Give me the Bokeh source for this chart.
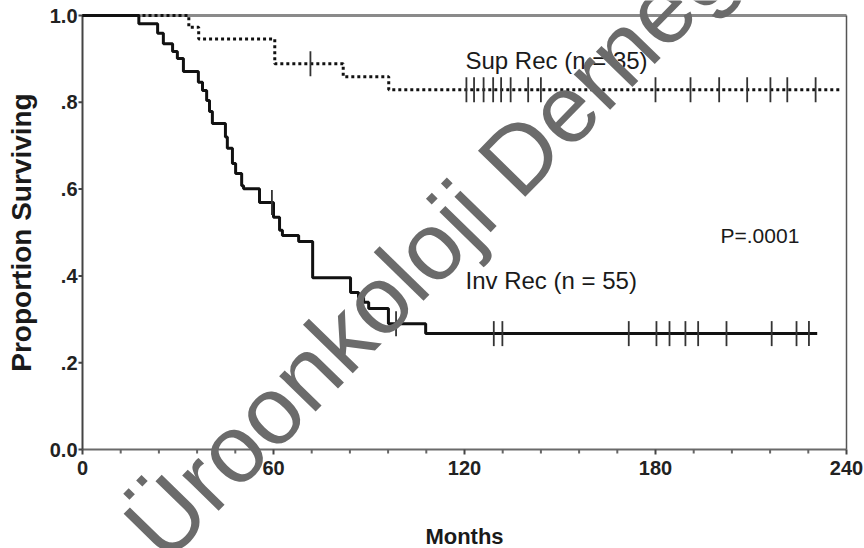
import math
from bokeh.plotting import figure
from bokeh.models import Label, Range1d
from bokeh.core.properties import value
from bokeh.embed import file_html
from bokeh.resources import INLINE

# ---------------- data ----------------
# Superficial recurrence (dotted curve)
sup_times = [33.4, 36.5, 60.4, 81.9, 96.2]
sup_surv = [0.973, 0.946, 0.889, 0.859, 0.829]
sup_end = 238.5
sup_censor = [71.6, 120.6, 123.0, 126.0, 129.0, 131.5, 134.5, 140.0, 144.0,
              180.0, 191.0, 200.0, 208.8, 216.1, 221.4, 230.3]

# Invasive recurrence (solid curve)
inv_times = [17.7, 23.6, 25.4, 28.3, 29.8, 31.7, 36.4, 37.7, 39.0, 39.9, 40.8,
             44.9, 45.5, 47.1, 48.1, 50.0, 50.6, 55.6, 60.0, 61.9, 62.8, 67.9,
             72.3, 84.2, 86.7, 88.3, 89.9, 96.1, 107.8]
inv_surv = [0.981, 0.959, 0.935, 0.917, 0.901, 0.871, 0.846, 0.827, 0.804, 0.779, 0.751,
            0.720, 0.694, 0.659, 0.636, 0.608, 0.601, 0.569, 0.535, 0.505, 0.493, 0.479,
            0.396, 0.362, 0.350, 0.339, 0.325, 0.290, 0.267]
inv_end = 230.8
inv_censor = [59.5, 98.5, 129.2, 131.9, 171.6, 180.3, 184.4, 189.4, 193.4,
              202.3, 216.5, 224.3, 228.2]

x_min, x_max = 0, 240
y_min, y_max = 0.0, 1.0
x_ticks = [0, 60, 120, 180, 240]
x_tick_labels = ["0", "60", "120", "180", "240"]
x_minor = [12, 24, 36, 48, 72, 84, 96, 108, 132, 144, 156, 168, 192, 204, 216, 228]
y_ticks = [0.0, 0.2, 0.4, 0.6, 0.8, 1.0]
y_tick_labels = ["0.0", ".2", ".4", ".6", ".8", "1.0"]

sup_label = "Sup Rec (n = 35)"
inv_label = "Inv Rec (n = 55)"
p_label = "P=.0001"
x_title = "Months"
y_title = "Proportion Surviving"
watermark = "Üroonkoloji Derneği"

# ---------------- helpers ----------------
def surv_at(t, times, surv):
    s = 1.0
    for ti, si in zip(times, surv):
        if ti <= t:
            s = si
    return s

W, H = 864, 548
FL, FR, FT, FB = 82, 846, 15, 449   # where the data box lies, in canvas px
KX = (x_max - x_min) / (FR - FL)     # months per px
KY = (y_max - y_min) / (FB - FT)     # proportion per px

def dx(px):
    return x_min + (px - FL) * KX

def dy(py):
    return y_min + (FB - py) * KY

SANS = "Liberation Sans"
INK = "#1a1a1a"

p = figure(width=W, height=H, x_range=Range1d(dx(0), dx(W)), y_range=Range1d(dy(H), dy(0)),
           output_backend="svg", toolbar_location=None,
           min_border_left=0, min_border_right=0, min_border_top=0, min_border_bottom=0)
p.axis.visible = False
p.xgrid.visible = False
p.ygrid.visible = False
p.outline_line_color = None
p.background_fill_color = "white"
p.border_fill_color = "white"

# ---- box / axes ----
p.segment(x0=[x_min], y0=[y_max], x1=[x_max], y1=[y_max], line_color="#8a8a8a", line_width=3)
p.segment(x0=[x_max], y0=[y_min], x1=[x_max], y1=[y_max], line_color="#555555", line_width=1.5)
p.segment(x0=[x_min], y0=[y_min], x1=[x_max], y1=[y_min], line_color="#6a6a6a", line_width=2)
p.segment(x0=[x_min], y0=[y_min], x1=[x_min], y1=[y_max], line_color="#444444", line_width=2)

# x ticks (outward, below)
p.segment(x0=x_ticks, y0=[y_min] * len(x_ticks), x1=x_ticks, y1=[y_min - 5 * KY] * len(x_ticks),
          line_color="#444444", line_width=2)
p.segment(x0=x_minor, y0=[y_min] * len(x_minor), x1=x_minor, y1=[y_min - 4 * KY] * len(x_minor),
          line_color="#666666", line_width=2)
# y ticks (outward, left)
p.segment(x0=[x_min] * len(y_ticks), y0=y_ticks, x1=[x_min - 4 * KX] * len(y_ticks), y1=y_ticks,
          line_color="#444444", line_width=2)

p.text(x=x_ticks, y=[y_min - 11 * KY] * len(x_ticks), text=x_tick_labels,
       text_font=value(SANS), text_font_size=value("20px"), text_font_style="bold",
       text_color="#222222", text_align="center", text_baseline="top")
p.text(x=[x_min - 5 * KX] * len(y_ticks), y=y_ticks, text=y_tick_labels,
       text_font=value(SANS), text_font_size=value("20px"), text_font_style="bold",
       text_color="#222222", text_align="right", text_baseline="middle")

# ---- curves ----
sx = [x_min] + sup_times + [sup_end]
sy = [y_max] + sup_surv + [sup_surv[-1]]
p.step(sx, sy, mode="after", line_color="#111111", line_width=3, line_dash="3 3")

ix = [x_min] + inv_times + [inv_end]
iy = [y_max] + inv_surv + [inv_surv[-1]]
p.step(ix, iy, mode="after", line_color="#111111", line_width=3)

# censor marks
h = 12.5 * KY
sc_y = [surv_at(t, sup_times, sup_surv) for t in sup_censor]
p.segment(x0=sup_censor, y0=[v - h for v in sc_y], x1=sup_censor, y1=[v + h for v in sc_y],
          line_color="#333333", line_width=1.8)
ic_y = [surv_at(t, inv_times, inv_surv) for t in inv_censor]
p.segment(x0=inv_censor, y0=[v - h for v in ic_y], x1=inv_censor, y1=[v + h for v in ic_y],
          line_color="#333333", line_width=1.8)

# ---- texts ----
p.add_layout(Label(x=dx(465), y=dy(73), text=sup_label, text_font=SANS,
                   text_font_size="24px", text_color=INK, text_baseline="bottom"))
p.add_layout(Label(x=dx(465), y=dy(293), text=inv_label, text_font=SANS,
                   text_font_size="24px", text_color=INK, text_baseline="bottom"))
p.add_layout(Label(x=dx(720), y=dy(246), text=p_label, text_font=SANS,
                   text_font_size="21px", text_color=INK, text_baseline="bottom"))
p.add_layout(Label(x=dx(21), y=dy(232), text=y_title, text_font=SANS,
                   text_font_size="28px", text_font_style="bold", text_color=INK,
                   angle=math.pi / 2, text_align="center", text_baseline="middle"))
p.add_layout(Label(x=dx(464), y=dy(548), text=x_title, text_font=SANS,
                   text_font_size="22px", text_font_style="bold", text_color=INK,
                   text_align="center", text_baseline="bottom"))

# ---- watermark ----
p.add_layout(Label(x=dx(179.5), y=dy(578.7), text=watermark, text_font=SANS,
                   text_font_size="96px", text_color="#6b6b6b",
                   angle=math.radians(45.7), text_align="left",
                   text_baseline="bottom"))

open("out.html", "w").write(file_html(p, INLINE))
